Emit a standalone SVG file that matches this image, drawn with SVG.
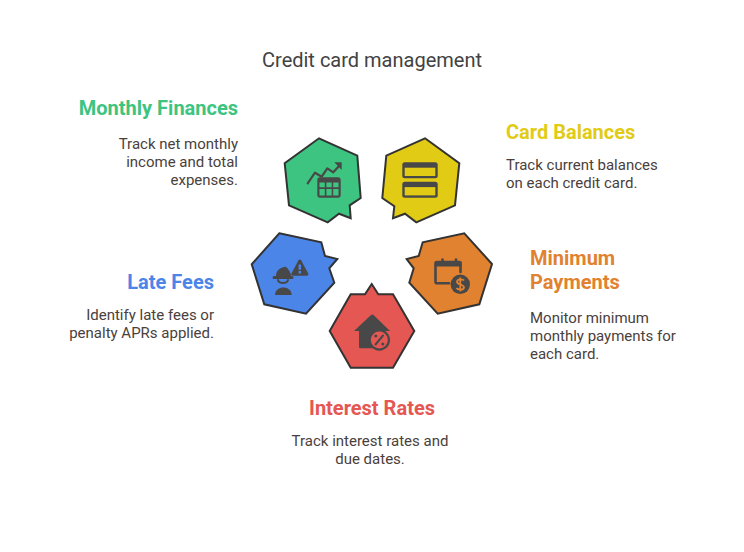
<svg xmlns="http://www.w3.org/2000/svg" width="744" height="552" viewBox="0 0 744 552">
<style>
text{font-family:Roboto,"Liberation Sans",sans-serif}
.title{font-size:20px;fill:#424242;text-anchor:middle}
.h{font-size:20px;font-weight:700}
.b{font-size:15px;fill:#4a413c}
.e{text-anchor:end}
.m{text-anchor:middle}
.s{stroke:#333;stroke-width:2;stroke-linejoin:miter}
.i{fill:#484848}
.l{fill:none;stroke:#484848;stroke-linecap:round;stroke-linejoin:round}
</style>
<rect width="744" height="552" fill="#fff"/>
<text class="title" x="372" y="67">Credit card management</text>
<g id="monthly-finances">
<polygon class="s" fill="#3dc480" points="319,138.300 357.300,155.700 360.700,198 349.700,205.300 350.700,218.300 339,213.700 327.700,222.300 289,205.300 284.700,163.300"/>
<path class="l" stroke-width="2.200" d="M307.700,183.300L315,172.700L321.700,176.700L327.300,168.300L333.300,172.300L340,165"/>
<polygon class="i" points="334.300,162.300 341.700,162.300 341.700,170"/>
<path class="i" d="M320,177.300h18a2.700,2.700 0 0 1 2.700,2.700v15a2.700,2.700 0 0 1-2.700,2.700h-18a2.700,2.700 0 0 1-2.700-2.700v-15a2.700,2.700 0 0 1 2.700-2.700z"/>
<path fill="#3dc480" d="M319.500,182.500h5.300v4.700h-5.300zM326.400,182.500h5.300v4.700h-5.300zM333.200,182.500h5.300v4.700h-5.300zM319.500,189h5.300v6.500h-5.300zM326.400,189h5.300v6.500h-5.300zM333.200,189h5.300v6.500h-5.300z"/>
<text class="h e" x="238" y="115" fill="#3dc480">Monthly Finances</text>
<text class="b e" x="238" y="149">Track net monthly</text>
<text class="b e" x="238" y="167">income and total</text>
<text class="b e" x="238" y="185">expenses.</text>
</g>
<g id="card-balances">
<polygon class="s" fill="#e1cb14" points="425,138.300 459.300,163.300 455,205.300 416.300,222.300 405,213.700 393,218.300 394.300,206.300 382.300,198 386.300,155.700"/>
<rect class="i" x="402.300" y="162.300" width="35.400" height="16" rx="2.500"/>
<rect fill="#e1cb14" x="404.700" y="167.700" width="30.600" height="8.300"/>
<rect class="i" x="402.300" y="181.700" width="35.400" height="16" rx="2.500"/>
<rect fill="#e1cb14" x="404.700" y="187.100" width="30.600" height="8.300"/>
<text class="h" x="506" y="139" fill="#e1cb14">Card Balances</text>
<text class="b" x="506" y="170">Track current balances</text>
<text class="b" x="506" y="188">on each credit card.</text>
</g>
<g id="minimum-payments">
<polygon class="s" fill="#e0822f" points="464.300,233.300 492,264 479.300,304.300 437.700,313.700 409.300,282.700 413.700,268.300 406.700,259 418.700,256 422.700,242.300"/>
<path class="l" stroke-width="2.600" d="M449,283.300H437a1.500,1.500 0 0 1-1.500-1.500V263.500a1.500,1.500 0 0 1 1.500-1.500H459a1.500,1.500 0 0 1 1.500,1.500V272"/>
<path class="i" d="M435,261.500h26.500v5h-26.500z"/>
<path class="l" stroke-width="2.600" d="M442.500,259.500v5M456,259.500v5"/>
<circle class="i" cx="460.300" cy="284.300" r="9.700"/>
<path d="M464,280.500c-1-1.500-6.500-2-7,1c-.3,3.500,7,2.500,7,6c-.5,3-6.500,2.500-7.500,.5M460.300,277.500v14" fill="none" stroke="#e0822f" stroke-width="1.800"/>
<text class="h" x="530" y="265" fill="#e0822f">Minimum</text>
<text class="h" x="530" y="289" fill="#e0822f">Payments</text>
<text class="b" x="530" y="323">Monitor minimum</text>
<text class="b" x="530" y="341">monthly payments for</text>
<text class="b" x="530" y="359">each card.</text>
</g>
<g id="interest-rates">
<polygon class="s" fill="#e55753" points="371.700,284 378.300,294.300 393,294.300 414.300,331 393,367.700 350.700,367.700 329.700,331 350.700,294.300 365,294.300"/>
<path class="i" d="M371,315a2,2 0 0 1 2.500,0L390,331H384V335H376V348.300H360.500a1.500,1.500 0 0 1-1.500-1.500V331H354Z"/>
<circle class="i" cx="379.300" cy="340" r="10.700"/>
<circle cx="379.300" cy="340" r="8.500" fill="#e55753"/>
<path class="l" stroke-width="2" d="M375.500,344.500L383,335.500"/>
<circle class="i" cx="375.800" cy="336" r="1.600"/>
<circle class="i" cx="382.800" cy="344" r="1.600"/>
<text class="h m" x="372" y="415" fill="#e55753">Interest Rates</text>
<text class="b m" x="370" y="446">Track interest rates and</text>
<text class="b m" x="370" y="464">due dates.</text>
</g>
<g id="late-fees">
<polygon class="s" fill="#4c85e8" points="279.300,233.300 321.300,242.300 325,256 337.300,259 329.300,268.300 334.300,282.700 306,313.700 264.300,304.300 251.700,264.300"/>
<path class="i" d="M274,279a1,1 0 0 1 0-3H276C276,270 281,267 286,266.700C288,269 291,272 291,276H292a1.500,1.500 0 0 1 0,3Z"/>
<path class="i" d="M298.500,260.300a1.500,1.500 0 0 1 2.600,0L308.200,273.500a1.500,1.500 0 0 1-1.300,2.200H292.700a1.500,1.500 0 0 1-1.300-2.200Z"/>
<path fill="#4c85e8" d="M298.600,264.500h2.400v5.200h-2.400zM298.600,271h2.400v2.400h-2.400z"/>
<path class="l" stroke-width="2" d="M278,280c1,4,9,4,10,0"/>
<path class="i" d="M275,295c0-10,16.700-10,16.700,0Z"/>
<text class="h e" x="214" y="289" fill="#4c85e8">Late Fees</text>
<text class="b e" x="214" y="320">Identify late fees or</text>
<text class="b e" x="214" y="338">penalty APRs applied.</text>
</g>
</svg>
